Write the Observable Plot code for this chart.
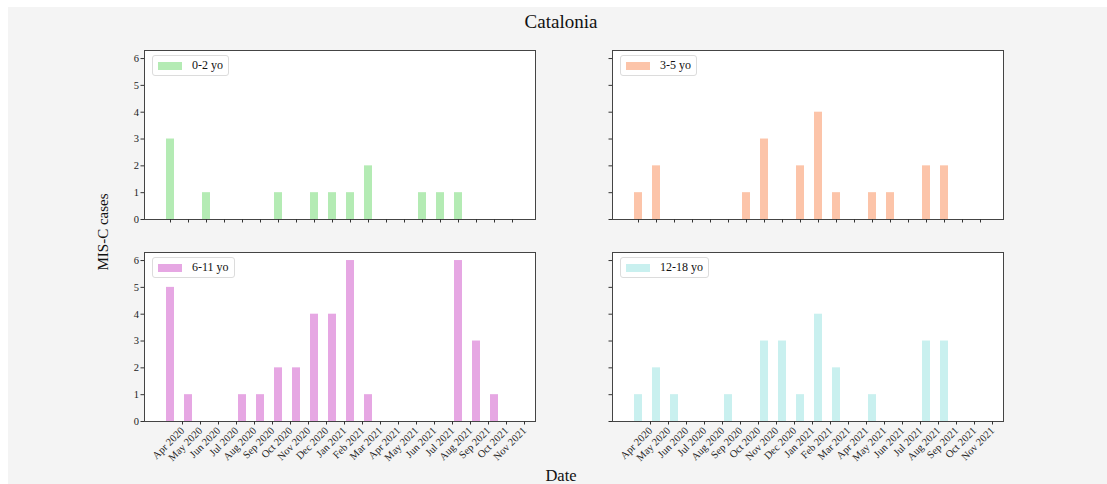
<!DOCTYPE html>
<html>
<head>
<meta charset="utf-8">
<script src="https://cdn.jsdelivr.net/npm/d3@7"></script>
<script src="https://cdn.jsdelivr.net/npm/@observablehq/plot@0.6"></script>
<style>
  html, body { margin: 0; padding: 0; background: #ffffff; }
  #root { position: relative; width: 1107px; height: 484px; overflow: hidden; font-family: "Liberation Serif", "Times New Roman", serif; color: #111; }
  #bg { position: absolute; left: 8px; top: 7px; right: 0; bottom: 0; background: #f4f4f4; }
  .panel { position: absolute; }
  .legend { position: absolute; background: #ffffff; border: 1px solid #dcdcdc; border-radius: 3px; height: 21px; display: flex; align-items: center; padding: 0 5px; font-size: 12px; box-sizing: border-box; }
  .legend .patch { display: inline-block; width: 24px; height: 8px; margin-right: 10px; }
  .lbl { position: absolute; line-height: 1; white-space: nowrap; }
</style>
</head>
<body>
<div id="root"><div id="bg"></div></div>
<script>
// ---- data ----
const months = ["Apr 2020","May 2020","Jun 2020","Jul 2020","Aug 2020","Sep 2020","Oct 2020","Nov 2020","Dec 2020","Jan 2021","Feb 2021","Mar 2021","Apr 2021","May 2021","Jun 2021","Jul 2021","Aug 2021","Sep 2021","Oct 2021","Nov 2021"];
const ageGroups = ["0-2 yo", "3-5 yo", "6-11 yo", "12-18 yo"];
const cases0_2  = [3,0,1,0,0,0,1,0,1,1,1,2,0,0,1,1,1,0,0,0];
const cases3_5  = [1,2,0,0,0,0,1,3,0,2,4,1,0,1,1,0,2,2,0,0];
const cases6_11 = [5,1,0,0,1,1,2,2,4,4,6,1,0,0,0,0,6,3,1,0];
const cases12_18 = [1,2,1,0,0,1,0,3,3,1,4,2,0,1,0,0,3,3,0,0];
const colors = ["#b4ebb4", "#fcc4a9", "#e6a7e3", "#c9f0ef"];
const yTicks = [0,1,2,3,4,5,6];
const titleText = "Catalonia";
const yLabelText = "MIS-C cases";
const xLabelText = "Date";

const FONT = '"Liberation Serif", "Times New Roman", serif';
const root = document.getElementById("root");

// panel layout (frame positions)
const FW = 391, FH = 169;
const ML = 40, MR = 12, MT = 10;
const layout = [
  {series: cases0_2,   fx: 144, fy: 50,  showY: true,  showX: false},
  {series: cases3_5,   fx: 612, fy: 50,  showY: false, showX: false},
  {series: cases6_11,  fx: 144, fy: 252, showY: true,  showX: true},
  {series: cases12_18, fx: 612, fy: 252, showY: false, showX: true}
];

layout.forEach((p, i) => {
  const data = months.map((m, j) => ({month: m, cases: p.series[j]}));
  const MB = p.showX ? 63 : 12;
  const chart = Plot.plot({
    width: FW + ML + MR,
    height: FH + MT + MB,
    marginLeft: ML, marginRight: MR, marginTop: MT, marginBottom: MB,
    style: {background: "transparent", fontFamily: FONT, fontSize: "10.5px", color: "#222", overflow: "visible"},
    x: {type: "band", domain: months, padding: 0.54, paddingOuter: 0, insetLeft: 19.8, insetRight: 17.5},
    y: {domain: [0, 6.3]},
    marks: [
      Plot.frame({fill: "#ffffff"}),
      Plot.barY(data, {x: "month", y: "cases", fill: colors[i]}),
      Plot.frame({stroke: "#444", strokeWidth: 1}),
      Plot.axisY({ticks: yTicks, tickSize: 3.5, tickPadding: 2, label: null,
                  tickFormat: p.showY ? (d => d) : (() => ""), stroke: "#333"}),
      Plot.axisX({tickSize: 3.5, tickPadding: 4, label: null,
                  tickRotate: p.showX ? -45 : 0, dx: p.showX ? 12 : 0,
                  tickFormat: p.showX ? (d => d) : (() => ""), stroke: "#333"})
    ]
  });
  const wrap = document.createElement("div");
  wrap.className = "panel";
  wrap.style.left = (p.fx - ML) + "px";
  wrap.style.top = (p.fy - MT) + "px";
  wrap.appendChild(chart);
  root.appendChild(wrap);

  const lg = document.createElement("div");
  lg.className = "legend";
  lg.style.left = (p.fx + 8) + "px";
  lg.style.top = (p.fy + 5) + "px";
  const patch = document.createElement("span");
  patch.className = "patch";
  patch.style.background = colors[i];
  const t = document.createElement("span");
  t.textContent = ageGroups[i];
  lg.appendChild(patch);
  lg.appendChild(t);
  root.appendChild(lg);
});

function addLabel(text, size, left, top, extra) {
  const d = document.createElement("div");
  d.className = "lbl";
  d.textContent = text;
  d.style.fontSize = size + "px";
  d.style.left = left + "px";
  d.style.top = top + "px";
  if (extra) Object.assign(d.style, extra);
  root.appendChild(d);
  return d;
}
addLabel(titleText, 19, 561, 12, {transform: "translateX(-50%)"});
addLabel(yLabelText, 15, 103, 232, {transform: "translate(-50%, -50%) rotate(-90deg)"});
addLabel(xLabelText, 16.5, 561, 468, {transform: "translateX(-50%)"});
</script>
</body>
</html>
